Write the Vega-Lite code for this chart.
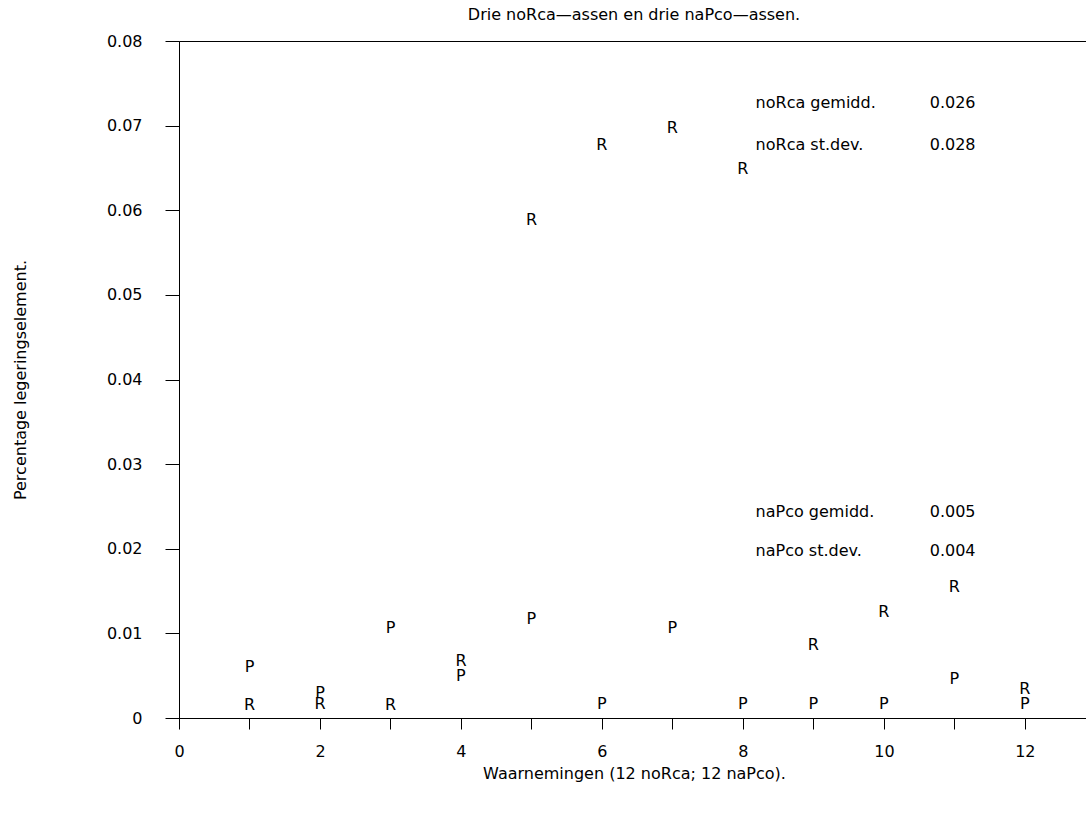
{
  "$schema": "https://vega.github.io/schema/vega-lite/v6.json",
  "autosize": {"type": "none"},
  "padding": {"left": 179, "top": 41, "right": 0, "bottom": 96},
  "width": 910,
  "height": 677,
  "background": "white",
  "title": {
    "text": "Drie noRca—assen en drie naPco—assen.",
    "fontSize": 16,
    "fontWeight": "normal",
    "font": "DejaVu Sans",
    "color": "black",
    "anchor": "middle",
    "offset": 10
  },
  "config": {
    "view": {"stroke": "black", "strokeWidth": 1},
    "text": {"font": "DejaVu Sans", "fontSize": 16, "color": "black"},
    "axis": {
      "domainColor": "black",
      "tickColor": "black",
      "labelColor": "black",
      "titleColor": "black",
      "labelFont": "DejaVu Sans",
      "titleFont": "DejaVu Sans",
      "labelFontSize": 16,
      "titleFontSize": 16,
      "titleFontWeight": "normal",
      "grid": false
    }
  },
  "datasets": {
    "points": [
      {"obs": 1, "value": 0.0015, "letter": "R"},
      {"obs": 2, "value": 0.0016, "letter": "R"},
      {"obs": 3, "value": 0.0015, "letter": "R"},
      {"obs": 4, "value": 0.0067, "letter": "R"},
      {"obs": 5, "value": 0.0589, "letter": "R"},
      {"obs": 6, "value": 0.0677, "letter": "R"},
      {"obs": 7, "value": 0.0697, "letter": "R"},
      {"obs": 8, "value": 0.0649, "letter": "R"},
      {"obs": 9, "value": 0.0086, "letter": "R"},
      {"obs": 10, "value": 0.0125, "letter": "R"},
      {"obs": 11, "value": 0.0155, "letter": "R"},
      {"obs": 12, "value": 0.0034, "letter": "R"},
      {"obs": 1, "value": 0.0060, "letter": "P"},
      {"obs": 2, "value": 0.0030, "letter": "P"},
      {"obs": 3, "value": 0.0106, "letter": "P"},
      {"obs": 4, "value": 0.0050, "letter": "P"},
      {"obs": 5, "value": 0.0117, "letter": "P"},
      {"obs": 6, "value": 0.0016, "letter": "P"},
      {"obs": 7, "value": 0.0106, "letter": "P"},
      {"obs": 8, "value": 0.0016, "letter": "P"},
      {"obs": 9, "value": 0.0016, "letter": "P"},
      {"obs": 10, "value": 0.0016, "letter": "P"},
      {"obs": 11, "value": 0.0046, "letter": "P"},
      {"obs": 12, "value": 0.0016, "letter": "P"}
    ],
    "notes": [
      {"obs": 8.18, "value": 0.0727, "txt": "noRca gemidd."},
      {"obs": 8.18, "value": 0.0677, "txt": "noRca st.dev."},
      {"obs": 10.65, "value": 0.0727, "txt": "0.026"},
      {"obs": 10.65, "value": 0.0677, "txt": "0.028"},
      {"obs": 8.18, "value": 0.0243, "txt": "naPco gemidd."},
      {"obs": 8.18, "value": 0.0197, "txt": "naPco st.dev."},
      {"obs": 10.65, "value": 0.0243, "txt": "0.005"},
      {"obs": 10.65, "value": 0.0197, "txt": "0.004"}
    ]
  },
  "layer": [
    {
      "data": {"name": "points"},
      "mark": {"type": "text", "align": "center", "baseline": "middle"},
      "encoding": {
        "x": {
          "field": "obs", "type": "quantitative",
          "scale": {"domain": [0, 12.91], "nice": false},
          "axis": {
            "title": "Waarnemingen (12 noRca; 12 naPco).",
            "values": [0, 1, 2, 3, 4, 5, 6, 7, 8, 9, 10, 11, 12],
            "format": "d",
            "labelExpr": "datum.value % 2 == 0 ? datum.label : ''",
            "tickSize": 11,
            "labelPadding": 14,
            "titlePadding": 6,
            "labelFlush": false,
            "labelOverlap": false
          }
        },
        "y": {
          "field": "value", "type": "quantitative",
          "scale": {"domain": [0, 0.08], "nice": false},
          "axis": {
            "title": "Percentage legeringselement.",
            "values": [0, 0.01, 0.02, 0.03, 0.04, 0.05, 0.06, 0.07, 0.08],
            "format": ".2~f",
            "tickSize": 14,
            "labelPadding": 23,
            "titlePadding": 78,
            "labelFlush": false,
            "labelOverlap": false
          }
        },
        "text": {"field": "letter", "type": "nominal"}
      }
    },
    {
      "data": {"name": "notes"},
      "mark": {"type": "text", "align": "left", "baseline": "middle"},
      "encoding": {
        "x": {"field": "obs", "type": "quantitative"},
        "y": {"field": "value", "type": "quantitative"},
        "text": {"field": "txt", "type": "nominal"}
      }
    }
  ]
}
